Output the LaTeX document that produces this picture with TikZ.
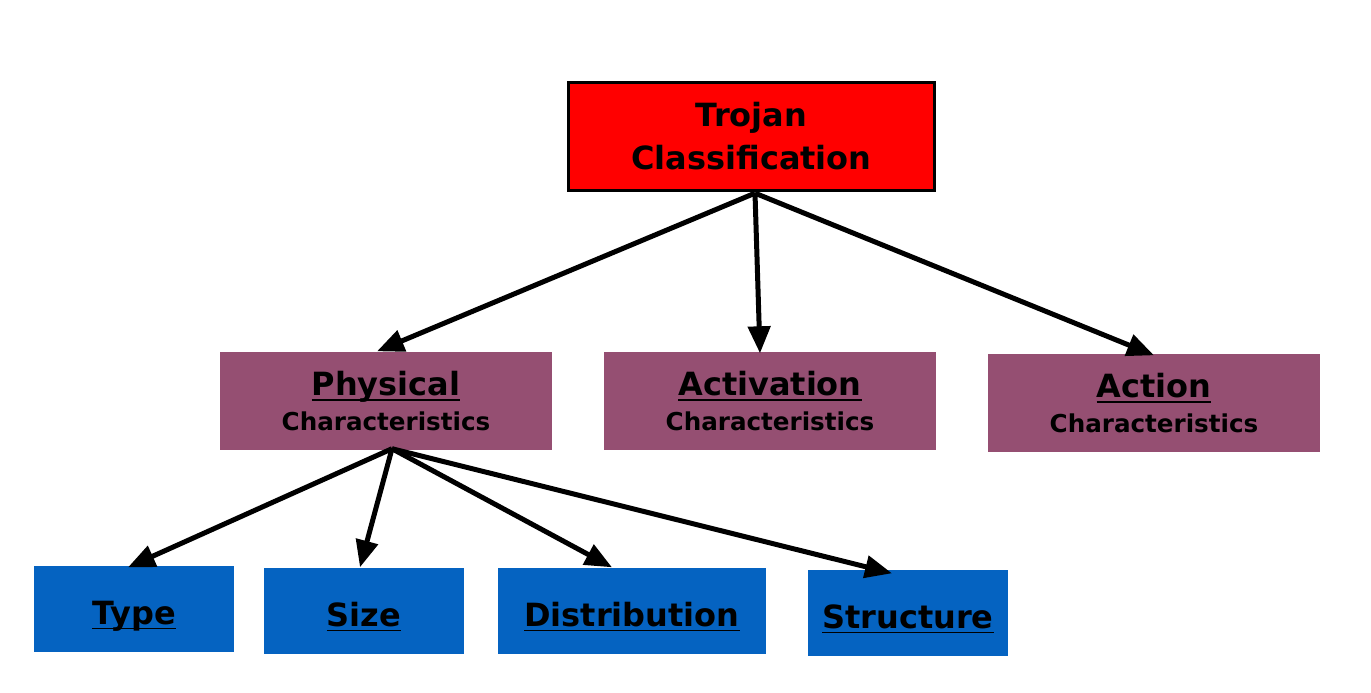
\documentclass[tikz,border=0pt]{standalone}
\usepackage{amsmath}
\usepackage{fontspec}
\setmainfont{DejaVu Sans}
\usepackage{xcolor}
\usepackage{tikz}
\usetikzlibrary{positioning,arrows.meta,calc}
\definecolor{rootcolor}{RGB}{255,0,0}
\definecolor{catcolor}{HTML}{954F72}
\definecolor{subcolor}{HTML}{0563C1}
\newcommand{\ulword}[1]{\underline{\smash[b]{#1}}}
\newcommand{\charfont}{\fontsize{7}{10}\selectfont}

\begin{document}
\begin{tikzpicture}[
  box/.style={inner sep=0pt, align=center, font=\bfseries\fontsize{9.1}{10}\selectfont},
  rootbox/.style={box, draw, line width=0.033cm, fill=rootcolor, minimum width=3.66cm, minimum height=1.08cm, font=\bfseries\fontsize{9.1}{12.2}\selectfont},
  catbox/.style={box, fill=catcolor, minimum width=3.32cm, minimum height=0.98cm},
  subbox/.style={box, fill=subcolor, minimum width=2.0cm, minimum height=0.86cm, text height=8.6pt, text depth=0pt},
  arr/.style={-{Triangle[length=0.27cm, width=0.22cm]}, line width=0.05cm},
]
\useasboundingbox (0,0) rectangle (13.71,-6.92);

% Root
\node[rootbox] (root) at (7.515, -1.365) {Trojan\\Classification};

% Characteristics
\node[catbox] (phys) at (3.86, -4.01) {\ulword{Physical}\\{\charfont Characteristics}};
\node[catbox] (activ) at (7.70, -4.01) {\ulword{Activation}\\{\charfont Characteristics}};
\node[catbox] (action) at (11.54, -4.03) {\ulword{Action}\\{\charfont Characteristics}};

% Physical sub-classes
\node[subbox] (type) at (1.34, -6.09) {\ulword{Type}};
\node[subbox] (size) at (3.64, -6.11) {\ulword{Size}};
\node[subbox, minimum width=2.68cm] (dist) at (6.32, -6.11) {\ulword{Distribution}};
\node[subbox] (struct) at (9.08, -6.13) {\ulword{Structure}};

\coordinate (rootfork) at ($(root.south)+(0.035,-0.01)$);
\coordinate (physfork) at ($(phys.south)+(0.06,0.02)$);

\draw[arr] (rootfork) -- ([xshift=-0.09cm]phys.north);
\draw[arr] (rootfork) -- ([xshift=-0.1cm,yshift=-0.02cm]activ.north);
\draw[arr] (rootfork) -- ([yshift=-0.02cm]action.north);

\draw[arr] (physfork) -- ([xshift=-0.06cm,yshift=-0.02cm]type.north);
\draw[arr] (physfork) -- ([xshift=-0.04cm]size.north);
\draw[arr] (physfork) -- ([xshift=-0.2cm]dist.north);
\draw[arr] (physfork) -- ([xshift=-0.16cm,yshift=-0.04cm]struct.north);
\end{tikzpicture}
\end{document}
